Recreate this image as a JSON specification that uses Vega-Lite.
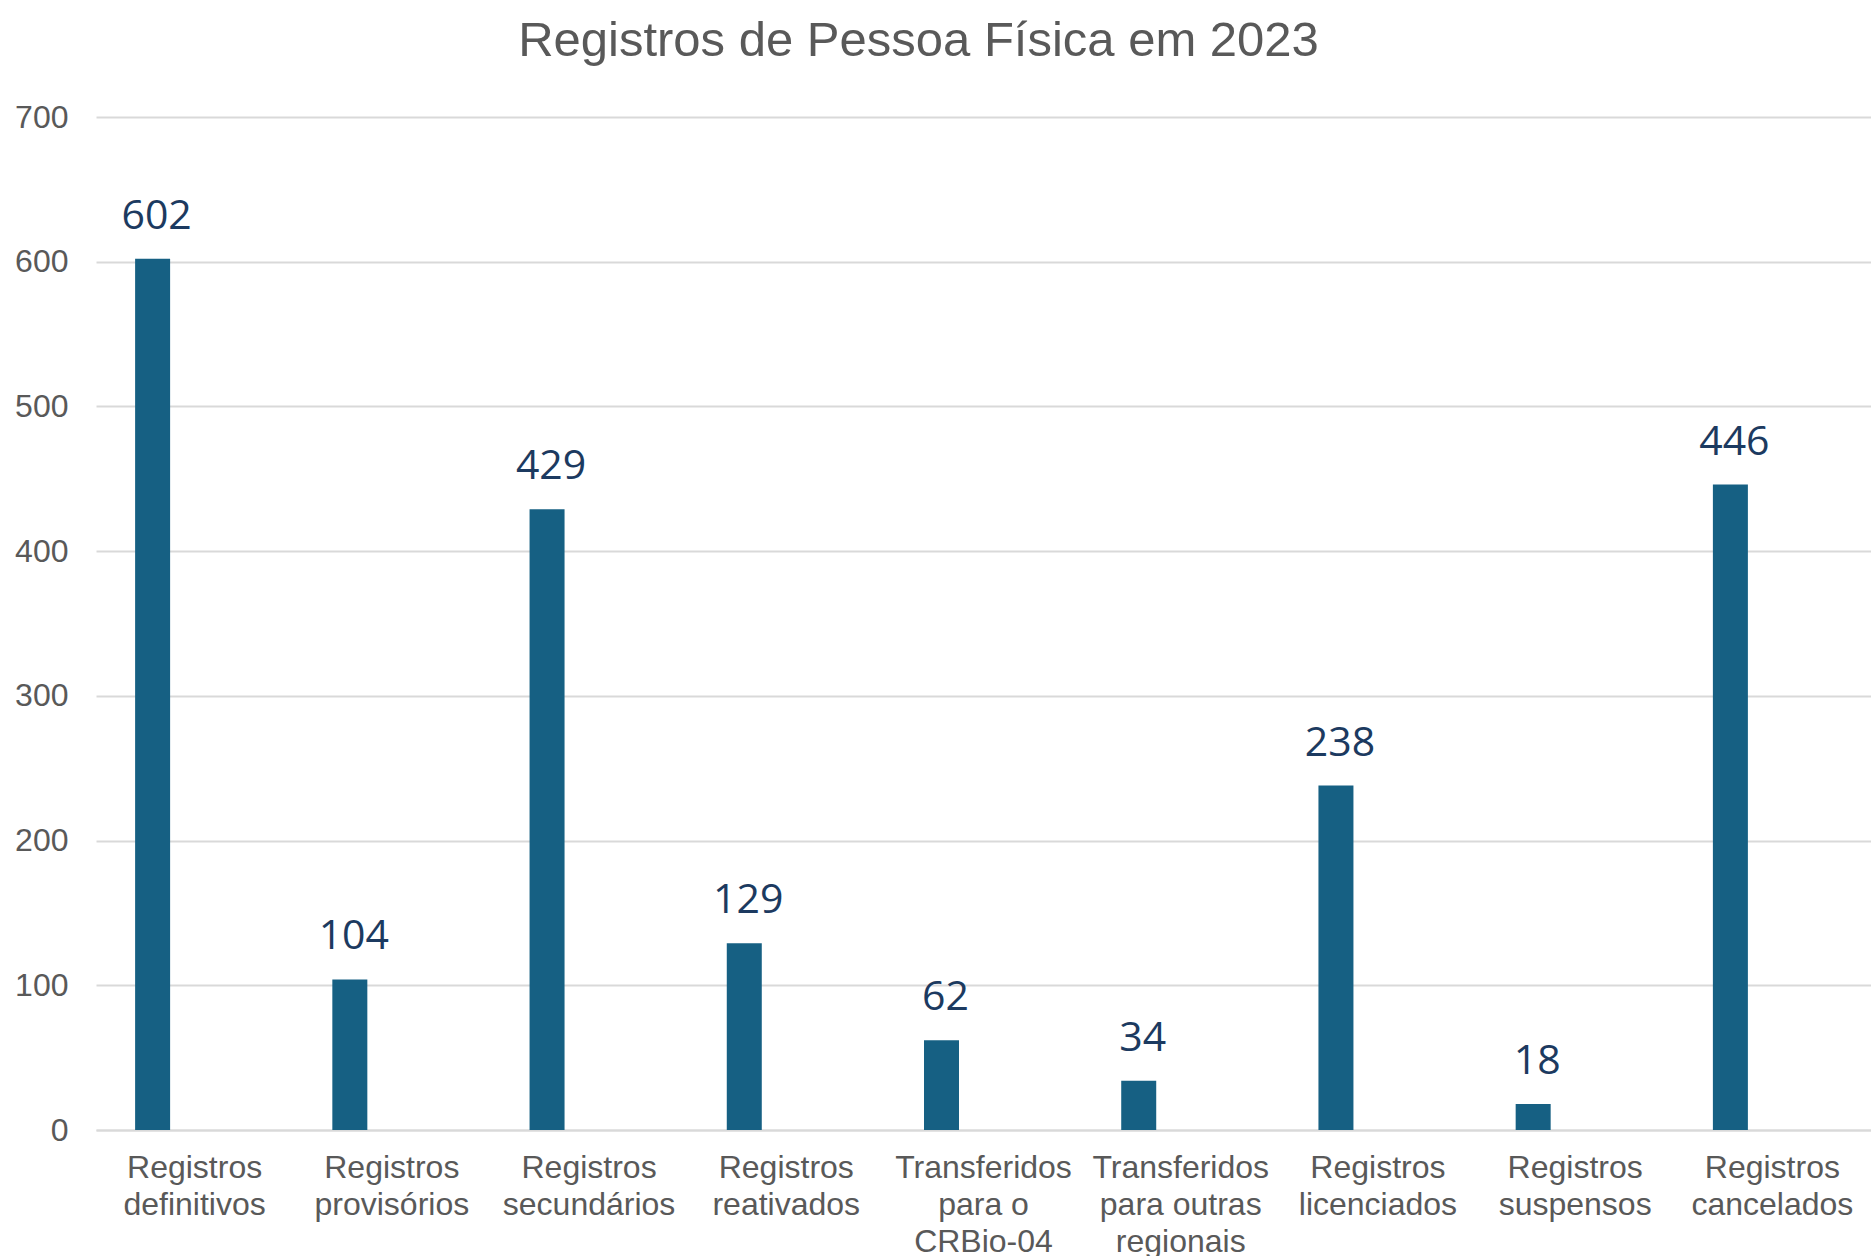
{
  "$schema": "https://vega.github.io/schema/vega-lite/v6.json",
  "width": 1775,
  "height": 1013,
  "autosize": {"type": "none"},
  "padding": {"left": 96, "top": 117, "right": 0, "bottom": 126},
  "background": "white",
  "title": {
    "text": "Registros de Pessoa Física em 2023",
    "font": "Liberation Sans",
    "fontSize": 49,
    "fontWeight": "normal",
    "color": "#595959",
    "anchor": "middle",
    "frame": "group",
    "dx": -65,
    "offset": 35
  },
  "data": {
    "values": [
      {"categoria": "Registros definitivos", "valor": 602},
      {"categoria": "Registros provisórios", "valor": 104},
      {"categoria": "Registros secundários", "valor": 429},
      {"categoria": "Registros reativados", "valor": 129},
      {"categoria": "Transferidos para o CRBio-04", "valor": 62},
      {"categoria": "Transferidos para outras regionais", "valor": 34},
      {"categoria": "Registros licenciados", "valor": 238},
      {"categoria": "Registros suspensos", "valor": 18},
      {"categoria": "Registros cancelados", "valor": 446}
    ]
  },
  "encoding": {
    "x": {
      "field": "categoria",
      "type": "nominal",
      "sort": null,
      "scale": {"paddingInner": 0, "paddingOuter": 0},
      "axis": {
        "title": null,
        "labelAngle": 0,
        "labelFont": "Liberation Sans",
        "labelFontSize": 32,
        "labelColor": "#595959",
        "labelLineHeight": 37,
        "labelPadding": 22,
        "labelLimit": 400,
        "ticks": false,
        "domain": true,
        "domainColor": "#D9D9D9",
        "domainWidth": 2,
        "grid": false,
        "labelExpr": "datum.label == 'Transferidos para o CRBio-04' ? ['Transferidos', 'para o', 'CRBio-04'] : datum.label == 'Transferidos para outras regionais' ? ['Transferidos', 'para outras', 'regionais'] : split(datum.label, ' ')"
      }
    },
    "y": {
      "field": "valor",
      "type": "quantitative",
      "scale": {"domain": [0, 700], "nice": false},
      "axis": {
        "title": null,
        "values": [0, 100, 200, 300, 400, 500, 600, 700],
        "labelFont": "Liberation Sans",
        "labelFontSize": 32,
        "labelColor": "#595959",
        "labelPadding": 28,
        "ticks": false,
        "domain": false,
        "grid": true,
        "gridColor": "#D9D9D9",
        "gridWidth": 2
      }
    }
  },
  "layer": [
    {
      "mark": {"type": "bar", "width": 35, "xOffset": -42, "color": "#166083"}
    },
    {
      "mark": {
        "type": "text",
        "xOffset": -38,
        "dy": -30,
        "baseline": "alphabetic",
        "align": "center",
        "font": "Open Sans",
        "fontSize": 41,
        "color": "#1C3A60"
      },
      "encoding": {"text": {"field": "valor", "type": "quantitative"}}
    }
  ],
  "config": {"view": {"stroke": null}}
}
